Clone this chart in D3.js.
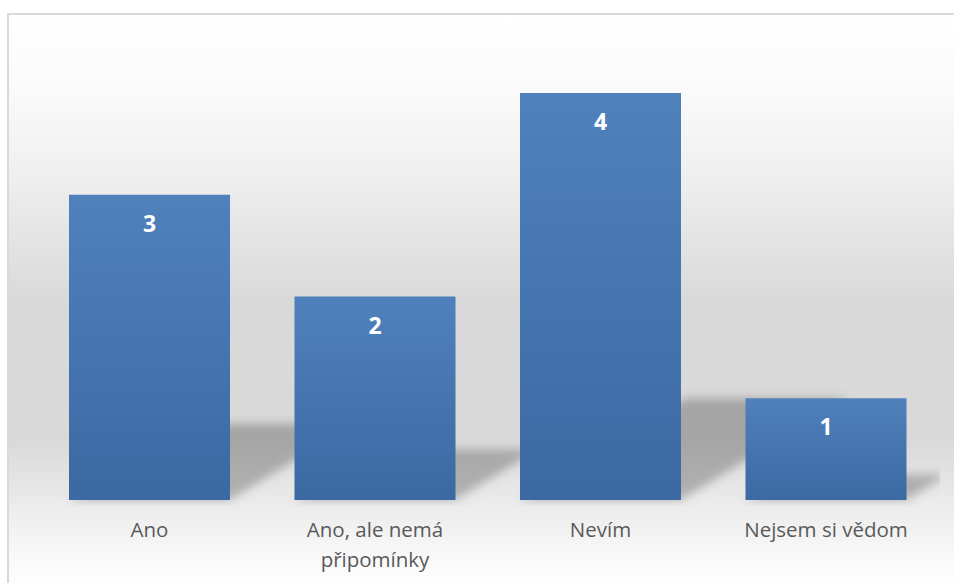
<!DOCTYPE html>
<html>
<head>
<meta charset="utf-8">
<script src="https://cdn.jsdelivr.net/npm/d3@7"></script>
<style>
  html, body { margin: 0; padding: 0; background: #ffffff; }
  svg { display: block; }
</style>
</head>
<body>
<svg id="chart" width="954" height="583"></svg>
<script>
// Survey answers and counts
const categories = ["Ano", "Ano, ale nemá připomínky", "Nevím", "Nejsem si vědom"];
const categoryLines = [["Ano"], ["Ano, ale nemá", "připomínky"], ["Nevím"], ["Nejsem si vědom"]];
const counts = [3, 2, 4, 1];

const W = 954, H = 583;
const svg = d3.select("#chart");
const defs = svg.append("defs");

// Chart area background: light wall fading into a grey band, then a lighter floor
const bg = defs.append("linearGradient")
  .attr("id", "bgGrad").attr("gradientUnits", "userSpaceOnUse")
  .attr("x1", 0).attr("y1", 14).attr("x2", 0).attr("y2", 590);
[[0, "#ffffff"], [0.12, "#fbfbfb"], [0.28, "#efefef"], [0.5, "#d9d9d9"], [0.74, "#d9d9d9"],
 [0.85, "#ebebeb"], [0.93, "#f7f7f7"], [1, "#ffffff"]]
  .forEach(([o, c]) => bg.append("stop").attr("offset", o).attr("stop-color", c));

// Bar fill: slightly lighter at the top
const barGrad = defs.append("linearGradient")
  .attr("id", "barGrad").attr("x1", 0).attr("y1", 0).attr("x2", 0).attr("y2", 1);
barGrad.append("stop").attr("offset", 0).attr("stop-color", "#4f81bd");
barGrad.append("stop").attr("offset", 1).attr("stop-color", "#3b69a2");

// Soft perspective shadow
defs.append("filter").attr("id", "shadowBlur")
  .attr("x", "-20%").attr("y", "-50%").attr("width", "140%").attr("height", "200%")
  .append("feGaussianBlur").attr("stdDeviation", 5);

defs.append("clipPath").attr("id", "plotClip")
  .append("rect").attr("x", 8).attr("y", 14).attr("width", 932).attr("height", 492);

svg.append("rect")
  .attr("x", 8).attr("y", 14).attr("width", W).attr("height", H)
  .attr("fill", "url(#bgGrad)")
  .attr("stroke", "#d9d9d9").attr("stroke-width", 2);

// Scales
const x = d3.scaleBand()
  .domain(categories)
  .range([36.75, 938.75])
  .paddingInner(0.286)
  .paddingOuter(0.143);
const y = d3.scaleLinear().domain([0, 4]).range([500, 93]);

const data = categories.map((c, i) => ({ cat: c, lines: categoryLines[i], v: counts[i] }));

// Shadows cast up and to the right behind each bar
const shadowScale = 0.25, shadowSkew = 1.63;
svg.append("g").attr("clip-path", "url(#plotClip)")
  .selectAll("path").data(data).join("path")
  .attr("d", d => {
    const x0 = x(d.cat), x1 = x0 + x.bandwidth();
    const h = (y(0) - y(d.v)) * shadowScale;
    const dx = h * shadowSkew;
    return `M${x0},${y(0)} L${x1},${y(0)} L${x1 + dx},${y(0) - h} L${x0 + dx},${y(0) - h} Z`;
  })
  .attr("fill", "#000").attr("fill-opacity", 0.24)
  .attr("filter", "url(#shadowBlur)");

// Bars
svg.append("g").selectAll("rect").data(data).join("rect")
  .attr("x", d => x(d.cat))
  .attr("y", d => y(d.v))
  .attr("width", x.bandwidth())
  .attr("height", d => y(0) - y(d.v))
  .attr("fill", "url(#barGrad)");

// Value labels inside the bars
svg.append("g").selectAll("text").data(data).join("text")
  .attr("x", d => x(d.cat) + x.bandwidth() / 2)
  .attr("y", d => y(d.v) + 37)
  .attr("text-anchor", "middle")
  .attr("font-family", "'Open Sans', sans-serif")
  .attr("font-weight", "bold")
  .attr("font-size", 23)
  .attr("fill", "#ffffff")
  .text(d => d.v);

// Category axis labels
const axisG = svg.append("g");
const labels = axisG.selectAll("text").data(data).join("text")
  .attr("text-anchor", "middle")
  .attr("font-family", "'Open Sans', sans-serif")
  .attr("font-size", 20.5)
  .attr("fill", "#595959");
labels.each(function (d) {
  const t = d3.select(this);
  d.lines.forEach((line, i) => {
    t.append("tspan")
      .attr("x", x(d.cat) + x.bandwidth() / 2)
      .attr("y", 537 + i * 30)
      .text(line);
  });
});
</script>
</body>
</html>
